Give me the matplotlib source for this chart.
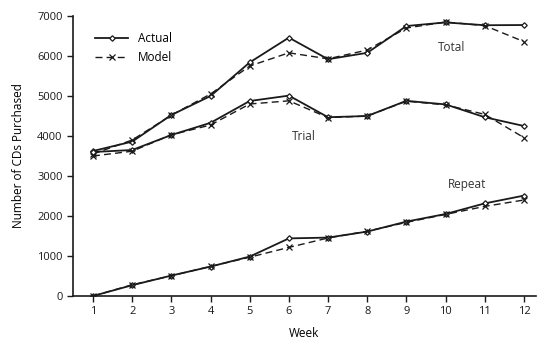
# CD purchases: actual vs model, total / trial / repeat
import matplotlib
matplotlib.use('Agg')
from matplotlib import pyplot as plt

weeks = list(range(1, 13))

total_actual = [3625, 3860, 4525, 5000, 5840, 6460, 5920, 6080, 6750, 6840, 6770, 6775]
total_model = [3550, 3900, 4520, 5050, 5750, 6080, 5930, 6150, 6700, 6850, 6760, 6360]
trial_actual = [3600, 3650, 4025, 4330, 4875, 5010, 4470, 4500, 4880, 4790, 4470, 4250]
trial_model = [3500, 3620, 4030, 4275, 4800, 4880, 4460, 4500, 4870, 4780, 4540, 3960]
repeat_actual = [0, 270, 510, 735, 985, 1440, 1460, 1610, 1860, 2050, 2315, 2510]
repeat_model = [0, 280, 505, 740, 970, 1215, 1450, 1620, 1840, 2040, 2240, 2400]

plt.rcParams['font.family'] = ['Open Sans', 'DejaVu Sans']

fig = plt.figure(figsize=(5.38, 3.41), dpi=100)
ax = fig.add_axes([0.1357, 0.132, 0.86, 0.821])

ink = '#1a1a1a'
for act, mod in [(total_actual, total_model), (trial_actual, trial_model),
                 (repeat_actual, repeat_model)]:
    ax.plot(weeks, act, '-', color=ink, lw=1.3, marker='D', ms=2.8,
            mfc='white', mec=ink, mew=0.9, label='Actual')
    ax.plot(weeks, mod, '--', color=ink, lw=1.0, marker='x', ms=4,
            mew=0.9, dashes=(5, 3), label='Model')

ax.text(10.15, 6220, 'Total', fontsize=8.5, color='#333333', ha='center', va='center')
ax.text(6.37, 4000, 'Trial', fontsize=8.5, color='#333333', ha='center', va='center')
ax.text(10.55, 2780, 'Repeat', fontsize=8.5, color='#333333', ha='center', va='center')

handles, labels = ax.get_legend_handles_labels()
ax.legend(handles[:2], labels[:2], loc='upper left', bbox_to_anchor=(0.025, 0.98),
          frameon=False, fontsize=8.5, handlelength=2.8, labelspacing=0.5)

ax.set_xlim(0.49, 12.3)
ax.set_ylim(0, 7000)
ax.set_xticks(weeks)
ax.set_yticks(range(0, 7001, 1000))
ax.spines['top'].set_visible(False)
ax.spines['right'].set_visible(False)
for s in ['left', 'bottom']:
    ax.spines[s].set_linewidth(1.2)
    ax.spines[s].set_color(ink)
ax.tick_params(direction='out', length=4, width=1, labelsize=8, colors=ink)
ax.set_xlabel('Week', fontsize=8.5, labelpad=7)
ax.set_ylabel('Number of CDs Purchased', fontsize=8.5, labelpad=9)

fig.savefig('out.png', dpi=100)
